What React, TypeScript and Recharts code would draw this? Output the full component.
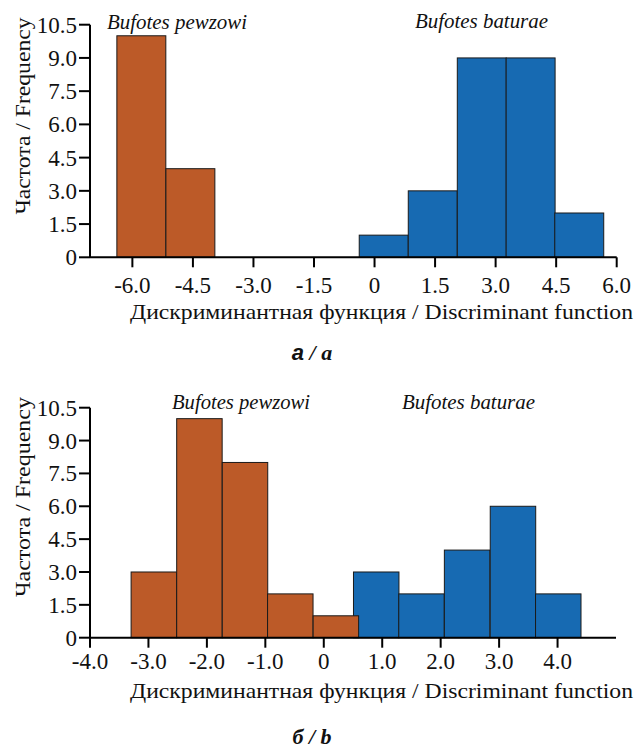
import React from 'react';
import { BarChart, Bar, XAxis, YAxis, Cell } from 'recharts';

const ORANGE = '#bc5a28';
const BLUE = '#176ab2';
const SERIF = 'Liberation Serif, Times New Roman, serif';

// panel а / a
const aPewzowiCenters = [-5.77, -4.555];
const aPewzowiCounts = [10, 4];
const aBaturaeCenters = [0.235, 1.45, 2.665, 3.875, 5.08];
const aBaturaeCounts = [1, 3, 9, 9, 2];
const aBinWidth = 1.213;
const aXDomain: [number, number] = [-7.05, 6];
const aXTicks = [-6, -4.5, -3, -1.5, 0, 1.5, 3, 4.5, 6];

// panel б / b
const bPewzowiCenters = [-2.905, -2.125, -1.345, -0.57, 0.21];
const bPewzowiCounts = [3, 10, 8, 2, 1];
const bBaturaeCenters = [0.9, 1.675, 2.455, 3.24, 4.015];
const bBaturaeCounts = [3, 2, 4, 6, 2];
const bBinWidth = 0.778;
const bXDomain: [number, number] = [-4, 5];
const bXTicks = [-4, -3, -2, -1, 0, 1, 2, 3, 4];

const yTicks = [0, 1.5, 3, 4.5, 6, 7.5, 9, 10.5];

const fmt = (v: number) => (v === 0 ? '0' : v.toFixed(1));

const bins = (pc: number[], pn: number[], bc: number[], bn: number[]) => [
  // baturae first so the pewzowi bars sit on top where they overlap
  ...bc.map((c, i) => ({ center: c, count: bn[i], sp: 'baturae' })),
  ...pc.map((c, i) => ({ center: c, count: pn[i], sp: 'pewzowi' })),
];

type PanelProps = {
  top: number;
  height: number;
  plotTop: number;
  plotBottom: number;
  plotRight: number;
  data: { center: number; count: number; sp: string }[];
  domain: [number, number];
  ticks: number[];
  binWidth: number;
  tickBaseline: number;
};

const PLOT_LEFT = 90;
const W = 637;

function Panel({ top, height, plotTop, plotBottom, plotRight, data, domain, ticks, binWidth, tickBaseline }: PanelProps) {
  const pxPerUnit = (plotRight - PLOT_LEFT) / (domain[1] - domain[0]);
  const barW = binWidth * pxPerUnit;
  const xAxisH = 45;
  const XTick = (p: any) => (
    <text x={p.x} y={plotBottom + tickBaseline} textAnchor="middle" style={{ fontFamily: SERIF, fontSize: 23 }} fill="#111">
      {fmt(p.payload.value)}
    </text>
  );
  const YTick = (p: any) => (
    <text x={p.x} y={p.y} dy="0.35em" textAnchor="end" style={{ fontFamily: SERIF, fontSize: 23 }} fill="#111">
      {fmt(p.payload.value)}
    </text>
  );
  // histogram bin: keep the library's centre and height, widen to the bin width
  const BinShape = (p: any) => {
    const cx = p.x + p.width / 2;
    return <rect x={cx - barW / 2} y={p.y} width={barW} height={p.height} fill={p.fill} stroke="#1a1a1a" strokeWidth={1} />;
  };
  return (
    <div style={{ position: 'absolute', left: 0, top }}>
      <BarChart
        width={W}
        height={height}
        data={data}
        margin={{ top: plotTop, right: W - plotRight, left: 0, bottom: height - plotBottom - xAxisH }}
      >
        <XAxis
          type="number"
          dataKey="center"
          domain={domain}
          ticks={ticks}
          interval={0}
          height={xAxisH}
          allowDataOverflow
          axisLine={{ stroke: '#000', strokeWidth: 2 }}
          tickLine={{ stroke: '#000', strokeWidth: 2 }}
          tickSize={10}
          tick={XTick}
        />
        <YAxis
          type="number"
          domain={[0, 10.5]}
          ticks={yTicks}
          interval={0}
          width={PLOT_LEFT}
          axisLine={{ stroke: '#000', strokeWidth: 2 }}
          tickLine={{ stroke: '#000', strokeWidth: 2 }}
          tickSize={11}
          tick={YTick}
        />
        <Bar dataKey="count" barSize={10} shape={BinShape} isAnimationActive={false}>
          {data.map((d, i) => (
            <Cell key={i} fill={d.sp === 'pewzowi' ? ORANGE : BLUE} />
          ))}
        </Bar>
      </BarChart>
    </div>
  );
}

export default function App() {
  const aData = bins(aPewzowiCenters, aPewzowiCounts, aBaturaeCenters, aBaturaeCounts);
  const bData = bins(bPewzowiCenters, bPewzowiCounts, bBaturaeCenters, bBaturaeCounts);
  const yLabel = 'Частота / Frequency';
  const xLabel = 'Дискриминантная функция / Discriminant function';
  return (
    <div style={{ position: 'absolute', left: 0, top: 0, width: W, height: 749, background: '#fff', overflow: 'hidden' }}>
      <Panel
        top={0}
        height={320}
        plotTop={24.7}
        plotBottom={257.3}
        plotRight={616.7}
        data={aData}
        domain={aXDomain}
        ticks={aXTicks}
        binWidth={aBinWidth}
        tickBaseline={36}
      />
      <Panel
        top={370}
        height={330}
        plotTop={37.7}
        plotBottom={267.7}
        plotRight={616}
        data={bData}
        domain={bXDomain}
        ticks={bXTicks}
        binWidth={bBinWidth}
        tickBaseline={31}
      />
      <svg width={W} height={749} style={{ position: 'absolute', left: 0, top: 0, pointerEvents: 'none', fontFamily: SERIF }}>
        <g fill="#111">
          <text x={177} y={29} fontSize={20} fontStyle="italic" textAnchor="middle" textLength={140} lengthAdjust="spacingAndGlyphs">Bufotes pewzowi</text>
          <text x={481.5} y={28} fontSize={20} fontStyle="italic" textAnchor="middle" textLength={133} lengthAdjust="spacingAndGlyphs">Bufotes baturae</text>
          <text x={241} y={409} fontSize={20} fontStyle="italic" textAnchor="middle" textLength={138} lengthAdjust="spacingAndGlyphs">Bufotes pewzowi</text>
          <text x={468.5} y={409} fontSize={20} fontStyle="italic" textAnchor="middle" textLength={133} lengthAdjust="spacingAndGlyphs">Bufotes baturae</text>

          <text x={381.5} y={319} fontSize={21} textAnchor="middle" textLength={503} lengthAdjust="spacingAndGlyphs">{xLabel}</text>
          <text x={381.5} y={698} fontSize={21} textAnchor="middle" textLength={503} lengthAdjust="spacingAndGlyphs">{xLabel}</text>

          <text transform="translate(30,116) rotate(-90)" fontSize={22} textAnchor="middle" textLength={197} lengthAdjust="spacingAndGlyphs">{yLabel}</text>
          <text transform="translate(30,497) rotate(-90)" fontSize={22} textAnchor="middle" textLength={200} lengthAdjust="spacingAndGlyphs">{yLabel}</text>

          <text x={312} y={360} fontSize={22} fontWeight="bold" fontStyle="italic" textAnchor="middle">
            <tspan style={{ fontFamily: 'Liberation Sans, Arial, sans-serif' }}>а</tspan>
            <tspan> / a</tspan>
          </text>
          <text x={312} y={744} fontSize={22} fontWeight="bold" fontStyle="italic" textAnchor="middle">б / b</text>
        </g>
      </svg>
    </div>
  );
}
